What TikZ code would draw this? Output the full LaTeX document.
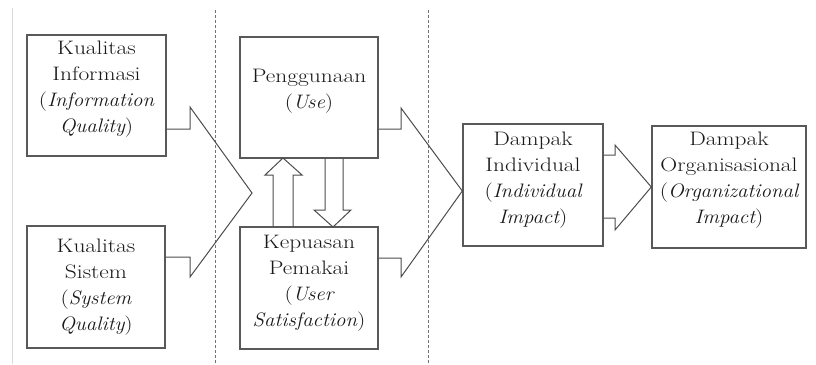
\documentclass[tikz,border=0pt]{standalone}
\usepackage{fontspec}
\setmainfont{Latin Modern Roman}[FakeStretch=1.2]
\newfontfamily\itfam{Latin Modern Roman}[FakeStretch=1.07]
\newcommand{\myit}[1]{{\itfam\itshape #1}}
\usetikzlibrary{calc}
\begin{document}
\begin{tikzpicture}[x=1pt,y=-1pt,
  box/.style={draw=black!65, line width=1.4pt, minimum width=#1, inner sep=0pt},
  txt/.style={align=center, text=black!90, font=\fontsize{19.5}{26}\selectfont},
  fat/.style={draw=black!70, line width=1pt, line join=miter},
  sep/.style={draw=black!55, line width=0.9pt, dash pattern=on 2.5pt off 2.5pt}]
\useasboundingbox (0,0) rectangle (816,364);
% boxes
\node[box=139pt, minimum height=121pt] (ki) at (96.5,95.5) {};
\node[box=138pt, minimum height=122pt] (ks) at (96,287) {};
\node[box=138pt, minimum height=121pt] (p) at (309,97.5) {};
\node[box=138pt, minimum height=122pt] (kp) at (309,288) {};
\node[box=140pt, minimum height=122pt] (di) at (533,185) {};
\node[box=154pt, minimum height=122pt] (do) at (729,187) {};
% texts
\node[txt] (tki) at (96.5,89.5) {Kualitas\\Informasi\\(\myit{Information}\\\myit{Quality})};
\node[txt] (tks) at (96,287.5) {Kualitas\\Sistem\\(\myit{System}\\\myit{Quality})};
\node[txt] (tp) at (309,91.5) {Penggunaan\\(\myit{Use})};
\node[txt] (tkp) at (309,283) {Kepuasan\\Pemakai\\(\myit{User}\\\myit{Satisfaction})};
\node[txt] (tdi) at (533,180) {Dampak\\Individual\\(\myit{Individual}\\\myit{Impact})};
\node[txt] (tdo) at (729,180) {Dampak\\Organisasional\\(\myit{Organizational}\\\myit{Impact})};
% separators
\coordinate (s1a) at (215,10); \coordinate (s1b) at (215,364);
\coordinate (s2a) at (428,10); \coordinate (s2b) at (428,364);
\coordinate (l1a) at (12,8); \coordinate (l1b) at (12,364);
\draw[sep] (s1a) -- (s1b);
\draw[sep] (s2a) -- (s2b);
\draw[black!15, line width=1pt] (l1a) -- (l1b);
% big arrow 1
\draw[fat] ($(ki.east)+(0,33.5)$) -- (190,129) -- (190,107) -- (252,193)
  -- (190,277) -- (190,257) -- ($(ks.east)+(0,-30)$);
% big arrow 2
\draw[fat] ($(p.east)+(0,31.5)$) -- (401,129) -- (401,108) -- ($(di.west)+(0,6)$)
  -- (401,277) -- (401,258) -- ($(kp.east)+(0,-30)$);
% arrow 3
\draw[fat] ($(di.east)+(0,-30)$) -- (615,155) -- (615,145) -- (do.west)
  -- (615,230) -- (615,218) -- ($(di.east)+(0,33)$);
% up arrow
\draw[fat] ($(kp.north)+(-36,0)$) -- (273,175) -- (265,175) -- (283,158)
  -- (302,175) -- (293,175) -- ($(kp.north)+(-16,0)$);
% down arrow
\draw[fat] ($(p.south)+(16,0)$) -- (325,210) -- (314,210) -- (333,227)
  -- (351,210) -- (343,210) -- ($(p.south)+(34,0)$);
\end{tikzpicture}
\end{document}
